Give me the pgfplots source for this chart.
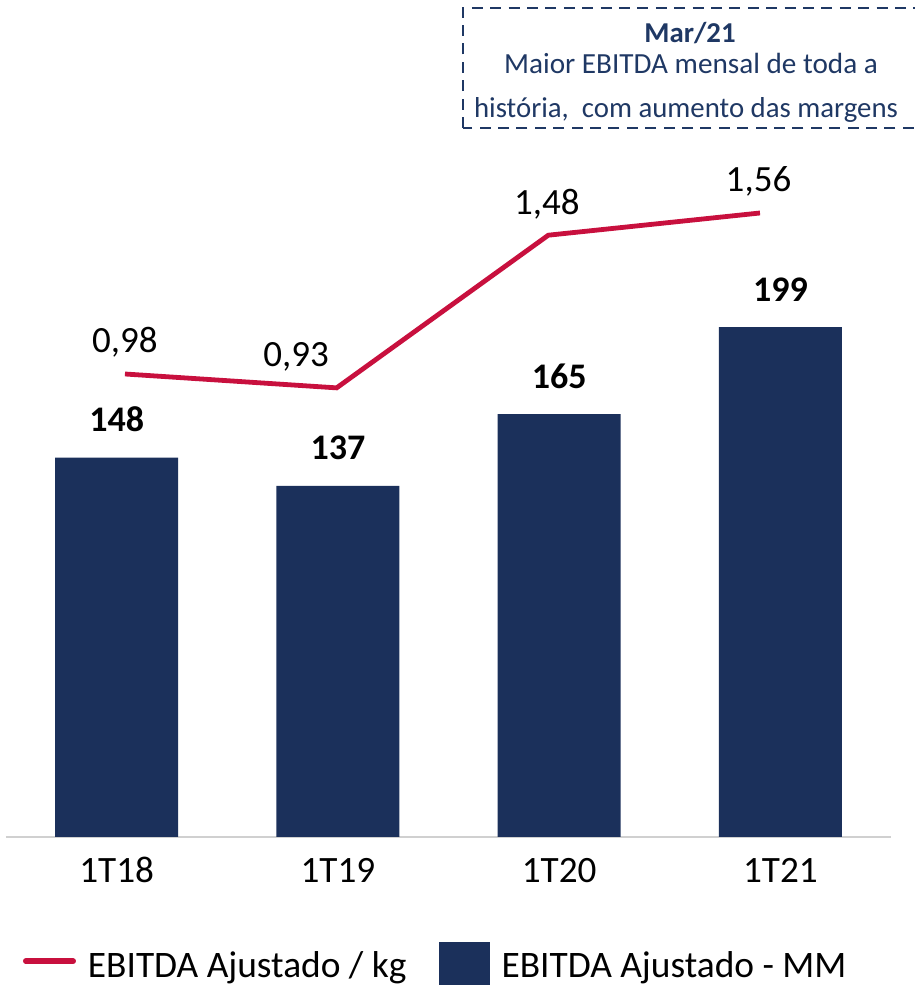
\documentclass[border=0pt]{standalone}
\usepackage{pgfplots}
\pgfplotsset{compat=1.18}
\usepackage{pgfplotstable}
\usepackage{fontspec}
\setmainfont{Carlito}
\definecolor{navy}{HTML}{1B305B}
\definecolor{crim}{HTML}{C8103E}
\definecolor{boxnavy}{HTML}{1F3864}
\definecolor{axgray}{HTML}{D0D0D0}
\pgfplotstableread{
x y lab
0 148 148
1 137 137
2 165 165
3 199 199
}\barstab
\pgfplotstableread{
x y lab dx
0 0.98 0,98 0
1 0.93 0,93 -20.25
2 1.48 1,48 -0.7
3 1.56 1,56 -0.75
}\linetab
\begin{document}
\begin{tikzpicture}
\path[use as bounding box] (0pt,0pt) rectangle (457.5pt,492.5pt);
\begin{axis}[at={(3pt,74pt)}, anchor=south west, scale only axis,
  width=442.5pt, height=343.5pt,
  xmin=-0.5, xmax=3.5, ymin=0, ymax=268.1,
  axis x line*=bottom, axis y line=none,
  x axis line style={axgray, line width=0.8pt, -},
  xtick={0,1,2,3}, xticklabels={1T18,1T19,1T20,1T21},
  major tick length=0pt, ytick=\empty,
  xticklabel style={anchor=base, yshift=-23pt, font=\fontsize{18.6}{21}\selectfont},
  clip=false,
  legend columns=2,
  legend style={at={(axis description cs:0.0192,-0.1530)}, anchor=north west,
    draw=none, fill=none, inner sep=0pt, outer sep=0pt,
    font=\fontsize{18.7}{21}\selectfont, nodes={inner sep=0pt},
    /tikz/every odd column/.append style={column sep=6pt},
    /tikz/every even column/.append style={column sep=16pt}},
]
\addlegendimage{legend image code/.code={\draw[crim, line width=2.8pt, line cap=round] (1.4pt,2.3pt) -- (25.1pt,2.3pt);}}
\addlegendentry{EBITDA Ajustado / kg}
\addplot[ybar, bar width=61.5pt, fill=navy, draw=none,
  nodes near coords, point meta=explicit symbolic,
  every node near coord/.append style={anchor=base, yshift=13pt,
    font=\bfseries\fontsize{18}{21}\selectfont, text=black},
  legend image code/.code={\fill[navy] (0pt,-10.2pt) rectangle (25.5pt,11.8pt);}]
  table[x=x,y=y,meta=lab]{\barstab};
\addlegendentry{EBITDA Ajustado - MM}
\end{axis}
\begin{axis}[at={(3pt,74pt)}, anchor=south west, scale only axis,
  width=442.5pt, height=343.5pt,
  xmin=-0.562, xmax=3.619, ymin=-0.688, ymax=1.787,
  hide axis, clip=false]
\addplot[crim, line width=2.4pt, mark=none,
  visualization depends on={\thisrow{dx} \as \dx},
  nodes near coords, point meta=explicit symbolic,
  every node near coord/.append style={anchor=base, yshift=10.5pt, xshift=\dx pt,
    font=\fontsize{18.5}{21}\selectfont, text=black}]
  table[x=x,y=y,meta=lab]{\linetab};
\end{axis}
\draw[boxnavy, line width=1.35pt, dash pattern=on 5.5pt off 3.7pt] (231.5pt,428.5pt) rectangle (459pt,488.5pt);
\node[anchor=base, text=boxnavy, inner sep=0pt, font=\bfseries\fontsize{14.4}{17}\selectfont] at (345pt,471pt) {Mar/21};
\node[anchor=base, text=boxnavy, inner sep=0pt, font=\fontsize{14.6}{17}\selectfont] at (345.5pt,455.5pt) {Maior EBITDA mensal de toda a};
\node[anchor=base, text=boxnavy, inner sep=0pt, font=\fontsize{14.4}{17}\selectfont] at (343pt,433.5pt) {história,\ \ com aumento das margens};
\end{tikzpicture}
\end{document}
